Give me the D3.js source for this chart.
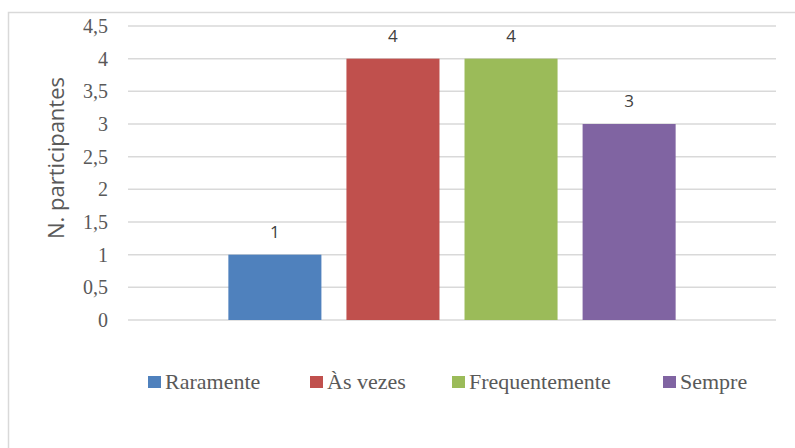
<!DOCTYPE html>
<html>
<head>
<meta charset="utf-8">
<script src="https://cdn.jsdelivr.net/npm/d3@7"></script>
<style>
  body { margin: 0; background: #fff; }
</style>
</head>
<body>
<div id="chart"></div>
<script>
// chart data
const series = ["Raramente", "Às vezes", "Frequentemente", "Sempre"];
const values = [1, 4, 4, 3];
const colors = ["#4f81bd", "#c0504d", "#9bbb59", "#8064a2"];
const yTicks = [0, 0.5, 1, 1.5, 2, 2.5, 3, 3.5, 4, 4.5];

const serifFont = "'Liberation Serif', 'Times New Roman', Times, 'DejaVu Serif', serif";
const sansFont = "'Open Sans', 'DejaVu Sans', sans-serif";

const width = 795, height = 448;
const margin = { top: 26, right: 19, bottom: 128, left: 128 };
const plot_width = width - margin.left - margin.right;
const plot_height = height - margin.top - margin.bottom;

const svg = d3.select("#chart")
    .append("svg")
    .attr("width", width)
    .attr("height", height);

// outer border
svg.append("rect")
    .attr("x", 8.5)
    .attr("y", 12.5)
    .attr("width", 800)
    .attr("height", 450)
    .attr("fill", "none")
    .attr("stroke", "#d9d9d9")
    .attr("stroke-width", 1.5);

const g = svg.append("g")
    .attr("transform", "translate(" + margin.left + "," + margin.top + ")");

const x = d3.scaleBand()
    .domain(series)
    .range([0, plot_width])
    .paddingInner(0.212)
    .paddingOuter(0.85);

const y = d3.scaleLinear()
    .domain([0, 4.5])
    .range([plot_height, 0]);

// gridlines
g.selectAll(".grid")
    .data(yTicks)
    .enter()
    .append("line")
    .attr("x1", 0)
    .attr("x2", plot_width)
    .attr("y1", d => y(d))
    .attr("y2", d => y(d))
    .attr("stroke", "#d9d9d9")
    .attr("stroke-width", 1.5);

// y axis labels
const yAxis = g.append("g")
    .call(d3.axisLeft(y).tickValues(yTicks).tickSize(0).tickPadding(20)
        .tickFormat(d => String(d).replace(".", ",")));
yAxis.select(".domain").remove();
yAxis.selectAll("text")
    .style("font-family", serifFont)
    .style("font-size", "20px")
    .attr("fill", "#595959");

// y axis title
svg.append("text")
    .attr("transform", "translate(64,158) rotate(-90)")
    .attr("text-anchor", "middle")
    .style("font-family", sansFont)
    .style("font-size", "22px")
    .attr("fill", "#595959")
    .text("N. participantes");

// bars
g.selectAll(".bar")
    .data(series)
    .enter()
    .append("rect")
    .attr("x", d => x(d))
    .attr("y", (d, i) => y(values[i]))
    .attr("width", x.bandwidth())
    .attr("height", (d, i) => plot_height - y(values[i]))
    .attr("fill", (d, i) => colors[i]);

// data labels
g.selectAll(".lbl")
    .data(series)
    .enter()
    .append("text")
    .attr("x", d => x(d) + x.bandwidth() / 2)
    .attr("y", (d, i) => y(values[i]) - 17)
    .attr("text-anchor", "middle")
    .style("font-family", sansFont)
    .style("font-size", "17px")
    .attr("fill", "#404040")
    .text((d, i) => values[i]);

// legend
const legendX = [148, 310, 452, 663];
const legend = svg.append("g");
series.forEach((s, i) => {
    legend.append("rect")
        .attr("x", legendX[i])
        .attr("y", 376)
        .attr("width", 13)
        .attr("height", 12)
        .attr("fill", colors[i]);
    legend.append("text")
        .attr("x", legendX[i] + 17)
        .attr("y", 389)
        .style("font-family", serifFont)
        .style("font-size", "22px")
        .attr("fill", "#595959")
        .text(s);
});
</script>
</body>
</html>
